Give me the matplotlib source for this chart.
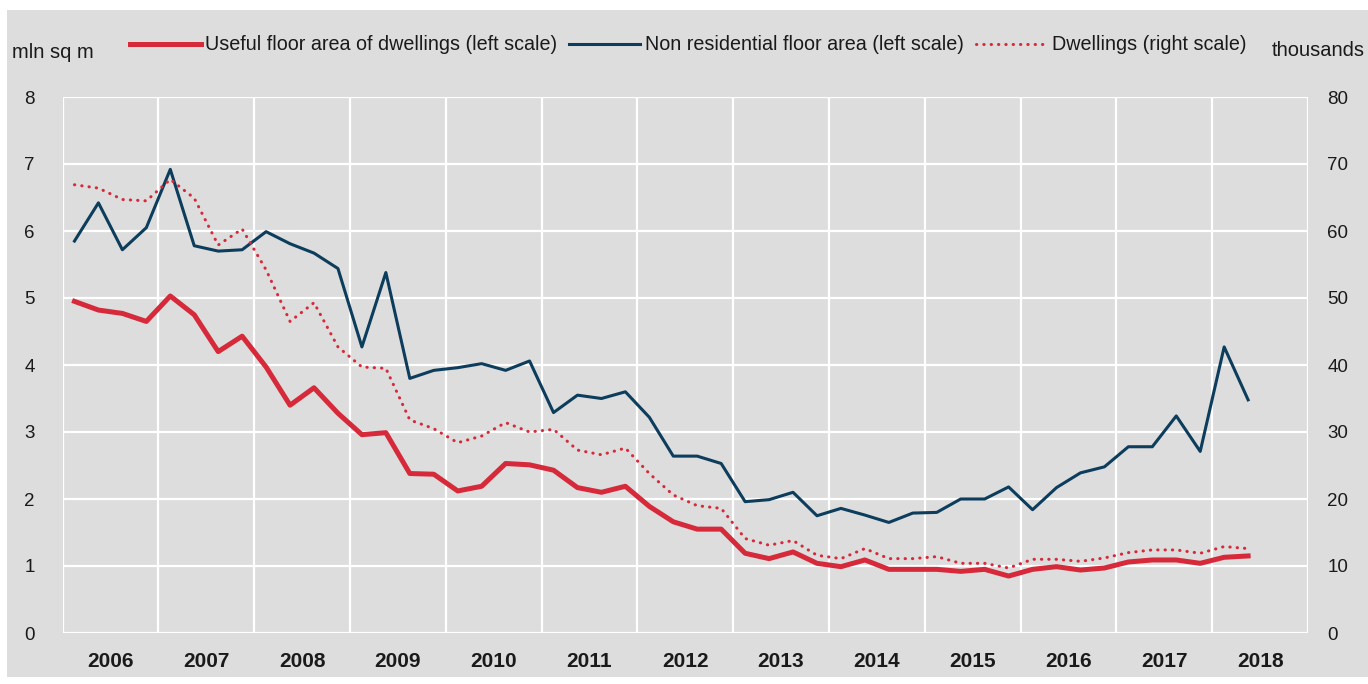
import matplotlib
matplotlib.use('Agg')
import matplotlib.pyplot as plt
from matplotlib.patches import Rectangle
import numpy as np

# quarterly data, 2006Q1 .. 2018Q2
years = list(range(2006, 2019))
n_quarters = 50

# useful floor area of dwellings, mln sq m (left scale)
useful_area = [4.95, 4.82, 4.77, 4.65, 5.03, 4.75, 4.20, 4.43, 3.97, 3.40,
               3.66, 3.28, 2.96, 2.99, 2.38, 2.37, 2.12, 2.19, 2.53, 2.51,
               2.43, 2.17, 2.10, 2.19, 1.89, 1.66, 1.55, 1.55, 1.19, 1.11,
               1.21, 1.04, 0.99, 1.09, 0.95, 0.95, 0.95, 0.92, 0.95, 0.85,
               0.95, 0.99, 0.94, 0.97, 1.06, 1.09, 1.09, 1.04, 1.13, 1.15]

# non residential floor area, mln sq m (left scale)
non_resid = [5.85, 6.42, 5.72, 6.05, 6.92, 5.78, 5.70, 5.72, 5.99, 5.81,
             5.67, 5.44, 4.27, 5.38, 3.80, 3.92, 3.96, 4.02, 3.92, 4.06,
             3.29, 3.55, 3.50, 3.60, 3.22, 2.64, 2.64, 2.53, 1.96, 1.99,
             2.10, 1.75, 1.86, 1.76, 1.65, 1.79, 1.80, 2.00, 2.00, 2.18,
             1.84, 2.17, 2.39, 2.48, 2.78, 2.78, 3.24, 2.71, 4.27, 3.48]

# dwellings, thousands (right scale)
dwellings = [66.9, 66.4, 64.7, 64.5, 67.7, 64.9, 57.9, 60.3, 54.2, 46.5,
             49.3, 42.7, 39.7, 39.5, 31.8, 30.5, 28.4, 29.4, 31.4, 30.0,
             30.4, 27.3, 26.6, 27.6, 23.8, 20.6, 19.0, 18.6, 14.1, 13.1,
             13.8, 11.6, 11.1, 12.6, 11.1, 11.1, 11.4, 10.4, 10.4, 9.7,
             11.0, 11.0, 10.7, 11.2, 12.0, 12.4, 12.4, 11.9, 12.9, 12.6]

x = 2006 + (np.arange(n_quarters) + 0.5) / 4

plt.rcParams['font.family'] = ['Liberation Sans', 'DejaVu Sans']

bg = '#dddddd'
red = '#d62a3a'
blue = '#0d3d5c'
txt = '#1a1a1a'

fig = plt.figure(figsize=(13.68, 6.84), dpi=100, facecolor='white')
fig.patches.append(Rectangle((7 / 1368, 7 / 684), 1361 / 1368, 667 / 684,
                             transform=fig.transFigure, facecolor=bg,
                             edgecolor='none', zorder=-10))

ax = fig.add_axes([62.5 / 1368, 51 / 684, 1245.5 / 1368, 536 / 684])
ax.set_facecolor(bg)
ax2 = ax.twinx()

l1, = ax.plot(x, useful_area, color=red, lw=3.6, solid_joinstyle='round',
              label='Useful floor area of dwellings (left scale)', zorder=3)
l2, = ax.plot(x, non_resid, color=blue, lw=2.2,
              label='Non residential floor area (left scale)', zorder=3)
l3, = ax2.plot(x, dwellings, color=red, lw=2.2, linestyle=(0, (0.1, 2.3)),
               dash_capstyle='round', label='Dwellings (right scale)', zorder=3)

ax.set_xlim(2006, 2019)
ax.set_ylim(0, 8)
ax2.set_ylim(0, 80)
ax.set_yticks(range(0, 9))
ax2.set_yticks(range(0, 81, 10))

ax.set_xticks(years + [2019])
ax.set_xticklabels([])
ax.set_xticks([y + 0.5 for y in years], minor=True)
ax.set_xticklabels([str(y) for y in years], minor=True,
                   fontsize=15, fontweight='bold', color=txt)
ax.tick_params(axis='x', which='both', length=0, pad=14)
ax.tick_params(axis='y', length=0, pad=20, labelsize=13.5, labelcolor=txt)
ax2.tick_params(axis='y', length=0, pad=14, labelsize=13.5, labelcolor=txt)

ax.grid(True, which='major', color='white', lw=1.6)
ax.set_axisbelow(True)
for a in (ax, ax2):
    for s in a.spines.values():
        s.set_visible(False)

fig.legend(handles=[l1, l2, l3], loc='center', ncol=3,
           bbox_to_anchor=(688 / 1368, 1 - 45 / 684), frameon=False,
           fontsize=14.2, handlelength=3.6, handletextpad=0.25,
           columnspacing=0.6, labelcolor=txt)

fig.text(12 / 1368, 1 - 53 / 684, 'mln sq m', fontsize=14.5, color=txt,
         va='center', ha='left')
fig.text(1272 / 1368, 1 - 50 / 684, 'thousands', fontsize=14.5, color=txt,
         va='center', ha='left')

fig.savefig('out.png', dpi=100, facecolor='white')
